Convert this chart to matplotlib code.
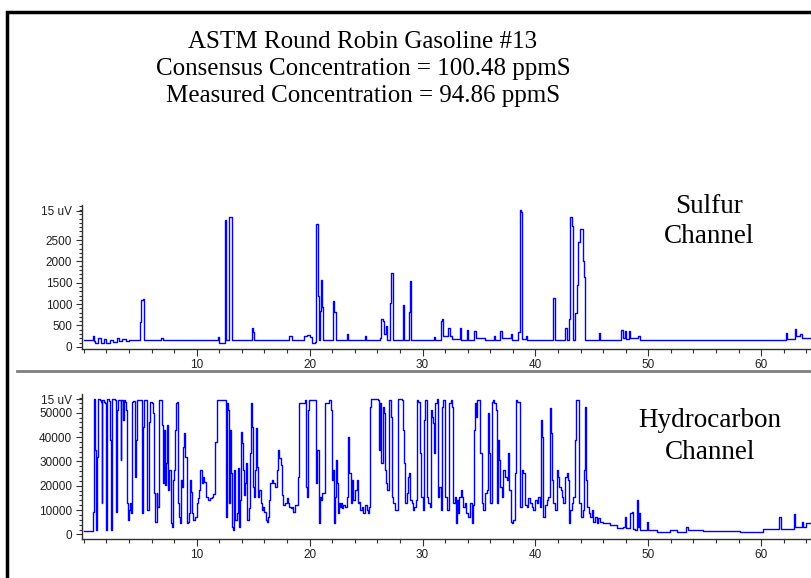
import matplotlib
matplotlib.use("Agg")
import matplotlib.pyplot as plt
from matplotlib.lines import Line2D
from matplotlib.ticker import MultipleLocator

# ---- data (time in minutes, detector counts) ----
title_lines = ["ASTM Round Robin Gasoline #13",
               "Consensus Concentration = 100.48 ppmS",
               "Measured Concentration = 94.86 ppmS"]

s_time = [0.0, 0.8, 0.9, 1.0, 1.3, 1.5, 1.8, 2.0, 2.3, 2.6,
          2.9, 3.1, 3.4, 3.7, 4.0, 4.4, 4.9, 5.0, 5.1, 5.2,
          5.3, 5.5, 6.6, 6.8, 7.0, 8.5, 10.0, 11.7, 11.9, 12.0,
          12.4, 12.5, 12.6, 12.8, 12.9, 13.0, 13.1, 14.0, 14.9, 15.0,
          15.1, 16.0, 17.0, 18.2, 18.4, 19.5, 19.8, 20.0, 20.2, 20.5,
          20.6, 20.7, 20.8, 20.95, 21.05, 21.1, 21.2, 22.1, 22.2, 22.3,
          23.3, 23.4, 24.9, 25.0, 26.2, 26.35, 26.5, 26.6, 26.75, 26.85,
          27.1, 27.25, 27.35, 28.25, 28.35, 28.8, 28.9, 29.0, 30.0, 31.0,
          31.1, 31.6, 31.7, 31.8, 32.3, 32.4, 32.6, 33.3, 33.45, 33.95,
          34.05, 34.6, 34.7, 35.5, 36.3, 36.4, 36.9, 37.0, 37.8, 37.9,
          38.5, 38.6, 38.7, 38.8, 39.2, 39.3, 41.6, 41.7, 42.6, 42.8,
          42.95, 43.05, 43.2, 43.3, 43.5, 43.65, 43.8, 43.95, 44.1, 44.2,
          44.3, 44.4, 45.6, 45.7, 46.0, 47.6, 47.8, 47.9, 48.0, 48.3,
          48.4, 49.1, 49.3, 62.2, 62.3, 63.0, 63.1, 63.4, 63.6, 64.3]
s_signal = [150, 260, 140, 100, 200, 90, 180, 100, 170, 120,
            210, 130, 180, 140, 160, 150, 160, 590, 1100, 1120,
            170, 150, 160, 200, 160, 150, 150, 160, 220, 100,
            100, 2970, 150, 150, 3045, 3045, 160, 160, 440, 350,
            170, 150, 160, 260, 170, 260, 280, 220, 90, 120,
            2870, 1190, 150, 850, 1565, 940, 150, 1075, 810, 150,
            300, 160, 250, 160, 200, 650, 600, 300, 490, 150,
            1020, 1740, 150, 980, 150, 820, 1540, 160, 150, 240,
            160, 600, 650, 250, 450, 250, 180, 450, 160, 400,
            170, 360, 200, 160, 260, 170, 360, 200, 300, 160,
            350, 3200, 3160, 180, 250, 160, 1150, 150, 440, 160,
            650, 3045, 2830, 160, 800, 1450, 2460, 2770, 2770, 2000,
            1630, 150, 330, 160, 150, 400, 200, 360, 180, 360,
            200, 250, 150, 320, 180, 420, 250, 300, 200, 200]

hc_time = [0.00, 0.79, 0.84, 0.93, 1.02, 1.11, 1.20, 1.29, 1.43, 1.52,
           1.58, 1.64, 1.79, 1.88, 1.97, 2.08, 2.20, 2.32, 2.41, 2.53,
           2.76, 2.85, 2.91, 3.06, 3.21, 3.27, 3.33, 3.44, 3.56, 3.68,
           3.74, 3.80, 3.89, 3.98, 4.09, 4.18, 4.27, 4.39, 4.51, 4.59,
           4.68, 4.98, 5.16, 5.27, 5.36, 5.57, 5.63, 5.75, 5.86, 6.01,
           6.16, 6.25, 6.34, 6.46, 6.51, 6.63, 6.87, 6.96, 7.04, 7.10,
           7.19, 7.25, 7.34, 7.43, 7.49, 7.58, 7.70, 7.81, 7.87, 7.96,
           8.05, 8.14, 8.23, 8.31, 8.43, 8.52, 8.61, 8.70, 8.79, 8.91,
           9.00, 9.11, 9.20, 9.29, 9.38, 9.47, 9.55, 9.70, 9.85, 10.00,
           10.09, 10.20, 10.32, 10.44, 10.59, 10.67, 10.79, 11.03, 11.18, 11.32,
           11.47, 11.62, 11.77, 12.50, 12.59, 12.65, 12.74, 12.83, 12.95, 13.04,
           13.13, 13.24, 13.33, 13.42, 13.54, 13.63, 13.72, 13.84, 13.93, 14.01,
           14.10, 14.19, 14.28, 14.37, 14.49, 14.61, 14.69, 14.78, 14.87, 14.96,
           15.08, 15.16, 15.25, 15.34, 15.43, 15.55, 15.67, 15.79, 15.87, 15.99,
           16.11, 16.20, 16.29, 16.38, 16.49, 16.64, 16.79, 16.96, 17.08, 17.23,
           17.32, 17.44, 17.56, 17.67, 17.79, 17.97, 18.09, 18.20, 18.32, 18.44,
           18.56, 18.70, 18.85, 18.94, 19.06, 19.59, 19.68, 19.80, 19.89, 19.98,
           20.48, 20.57, 20.68, 20.80, 20.92, 21.01, 21.10, 21.34, 21.40, 21.75,
           21.87, 21.96, 22.04, 22.16, 22.25, 22.34, 22.46, 22.55, 22.64, 22.72,
           22.81, 22.90, 22.99, 23.14, 23.28, 23.43, 23.52, 23.64, 23.76, 23.87,
           24.02, 24.17, 24.26, 24.35, 24.46, 24.64, 24.76, 24.91, 25.05, 25.17,
           25.26, 25.35, 25.44, 26.09, 26.18, 26.26, 26.35, 26.47, 26.59, 26.68,
           26.77, 26.88, 27.00, 27.18, 27.30, 27.42, 27.56, 27.86, 28.15, 28.30,
           28.39, 28.48, 28.60, 28.72, 28.80, 28.89, 29.04, 29.19, 29.28, 29.40,
           29.48, 29.63, 29.78, 29.90, 30.02, 30.13, 30.22, 30.37, 30.52, 30.66,
           30.78, 30.87, 30.96, 31.05, 31.14, 31.26, 31.37, 31.49, 31.61, 31.73,
           31.85, 31.97, 32.14, 32.32, 32.50, 32.61, 32.73, 32.85, 32.97, 33.09,
           33.18, 33.26, 33.38, 33.50, 33.62, 33.74, 33.85, 34.06, 34.21, 34.36,
           34.48, 34.56, 34.65, 34.74, 34.83, 35.09, 35.24, 35.39, 35.51, 35.68,
           35.77, 35.86, 35.98, 36.13, 36.25, 36.36, 36.48, 36.57, 36.69, 36.78,
           36.87, 37.01, 37.16, 37.31, 37.46, 37.60, 37.69, 37.81, 37.93, 38.05,
           38.17, 38.28, 38.40, 38.64, 38.78, 38.93, 39.08, 39.23, 39.38, 39.52,
           39.67, 39.82, 39.97, 40.11, 40.26, 40.41, 40.50, 40.58, 40.70, 40.85,
           41.00, 41.15, 41.30, 41.38, 41.47, 41.59, 41.74, 41.89, 42.00, 42.12,
           42.24, 42.36, 42.48, 42.62, 42.77, 42.86, 42.95, 43.07, 43.21, 43.36,
           43.51, 43.60, 43.74, 43.89, 44.01, 44.19, 44.30, 44.39, 44.48, 44.60,
           44.72, 44.83, 44.98, 45.13, 45.28, 45.42, 45.57, 45.72, 46.02, 46.61,
           47.20, 47.79, 47.94, 48.03, 48.38, 48.53, 48.62, 48.82, 48.97, 49.06,
           49.18, 49.27, 49.86, 50.01, 50.74, 51.92, 52.51, 53.34, 53.49, 54.87,
           56.64, 58.12, 60.19, 61.37, 61.61, 61.73, 62.55, 62.91, 63.03, 63.58,
           63.73, 63.96, 64.30]
hc_signal = [1400, 1400, 9300, 55500, 34700, 1800, 31900, 55500, 55200, 54500,
             12700, 55200, 54500, 53800, 1800, 55500, 54900, 38800, 1800, 55500,
             55200, 9300, 51100, 55200, 55200, 30600, 55200, 47000, 55200, 54500,
             51100, 12700, 5900, 10000, 12700, 8600, 54500, 54900, 23700, 38800,
             55200, 55200, 8600, 44300, 55200, 55200, 10000, 46300, 54500, 53800,
             49700, 16900, 5200, 16900, 11400, 55200, 55200, 44900, 21000, 42900,
             20300, 29200, 44900, 44300, 18200, 26400, 4500, 3200, 22300, 26400,
             42900, 53800, 54500, 12700, 7300, 4500, 22300, 19600, 36000, 41500,
             31900, 4500, 5200, 8600, 22300, 17500, 8600, 5900, 7300, 12700,
             14800, 18200, 26400, 21000, 23700, 21600, 15500, 14100, 14800, 15500,
             16600, 38100, 55200, 55200, 7300, 53800, 51100, 12700, 42900, 25100,
             3200, 1800, 26400, 5900, 8600, 27100, 3200, 14100, 42200, 37400,
             26400, 16200, 21000, 29200, 5900, 10700, 33300, 53800, 44300, 19600,
             15500, 26400, 43600, 27800, 15500, 18200, 12700, 10000, 11400, 9300,
             5900, 5200, 7300, 14100, 21000, 22300, 21000, 19300, 26400, 34700,
             31200, 28500, 16200, 12100, 12700, 14800, 12700, 11400, 10700, 11400,
             9300, 12100, 12100, 23700, 53800, 55200, 19600, 15500, 51100, 55200,
             55200, 21000, 34700, 4500, 15500, 14100, 16900, 23700, 53800, 55200,
             51100, 22300, 26400, 4500, 15500, 30600, 21000, 8600, 12700, 11400,
             12700, 10700, 12100, 11400, 15500, 40100, 25100, 12700, 22300, 14100,
             18200, 22300, 12700, 13400, 10000, 11400, 8600, 12100, 10000, 8600,
             11400, 52500, 55500, 55200, 34700, 53800, 29200, 52500, 49700, 26400,
             21000, 18200, 55200, 48400, 15500, 12700, 10000, 55500, 55200, 42900,
             29200, 12700, 16900, 23700, 25100, 14100, 12700, 10000, 11400, 14100,
             55200, 54500, 33300, 15500, 10000, 47000, 55200, 15500, 12700, 11400,
             51100, 48400, 45600, 33300, 53800, 55500, 15500, 19600, 10000, 52500,
             55200, 15500, 10000, 53800, 55200, 52500, 12700, 15500, 4500, 14100,
             8600, 15500, 18200, 15500, 11400, 12700, 8600, 7300, 12700, 4500,
             12100, 42900, 53800, 48400, 55200, 33300, 12700, 10000, 16900, 18200,
             49700, 33300, 12700, 54500, 55200, 53800, 51100, 12700, 38800, 30600,
             19600, 15500, 26400, 23700, 22300, 33300, 18200, 5200, 4500, 5900,
             25100, 55200, 54500, 11400, 26400, 25100, 12100, 11400, 14800, 12700,
             11400, 10000, 14100, 12700, 15500, 11400, 47000, 40100, 7300, 12100,
             14100, 15500, 51800, 41500, 22300, 12700, 10000, 26400, 23700, 19600,
             18200, 15500, 12700, 23700, 25100, 22300, 4500, 10000, 12700, 15500,
             38800, 55200, 55200, 12700, 7300, 10000, 26400, 52500, 22300, 11400,
             8600, 7300, 10000, 5200, 7300, 4500, 6600, 5200, 4500, 3800,
             2500, 3200, 7300, 2500, 8600, 9300, 2100, 1800, 14100, 3200,
             8600, 1800, 5200, 1800, 1100, 1800, 1100, 3200, 1800, 1500,
             1400, 1100, 2100, 2300, 7300, 2100, 2100, 8300, 3200, 5200,
             3200, 4500, 4500]

s_ticks = [0, 500, 1000, 1500, 2000, 2500, 3180]
s_tick_labels = ["0", "500", "1000", "1500", "2000", "2500", "15 uV"]
hc_ticks = [0, 10000, 20000, 30000, 40000, 50000, 55500]
hc_tick_labels = ["0", "10000", "20000", "30000", "40000", "50000", "15 uV"]
time_ticks = [10, 20, 30, 40, 50, 60]

W, H = 812, 578


def fx(px):
    return px / W


def fy(py):
    return 1 - py / H


def style_axis(ax, yticks, ylabels, yminor):
    for side in ["top", "right"]:
        ax.spines[side].set_visible(False)
    for side in ["left", "bottom"]:
        ax.spines[side].set_color("#303030")
        ax.spines[side].set_linewidth(1.0)
    ax.set_xlim(-0.16, 64.5)
    ax.set_xticks(time_ticks)
    ax.set_xticklabels([str(t) for t in time_ticks])
    ax.xaxis.set_minor_locator(MultipleLocator(2))
    ax.set_yticks(yticks)
    ax.set_yticklabels(ylabels)
    ax.yaxis.set_minor_locator(MultipleLocator(yminor))
    ax.tick_params(axis="x", which="major", length=5, width=0.8, pad=2,
                   color="#303030", labelsize=8.5, labelcolor="#202020")
    ax.tick_params(axis="x", which="minor", length=3, width=0.8, color="#303030")
    ax.tick_params(axis="y", which="major", length=4, width=0.8, pad=3,
                   color="#303030", labelsize=8.5, labelcolor="#202020")
    ax.tick_params(axis="y", which="minor", length=2, width=0.8, color="#303030")
    for lab in ax.get_xticklabels() + ax.get_yticklabels():
        lab.set_fontfamily("Liberation Sans")


fig = plt.figure(figsize=(W / 100, H / 100), dpi=100)

# sulfur channel
ax_s = fig.add_axes([fx(82), fy(349), fx(W) - fx(82), fy(205) - fy(349)])
ax_s.plot(s_time, s_signal, color="#0000ff", lw=1.0, drawstyle="steps-post")
ax_s.set_ylim(-50, 3320)
style_axis(ax_s, s_ticks, s_tick_labels, 100)

# hydrocarbon channel
ax_h = fig.add_axes([fx(82), fy(539), fx(W) - fx(82), fy(394) - fy(539)])
ax_h.plot(hc_time, hc_signal, color="#0000ff", lw=1.0, drawstyle="steps-post")
ax_h.set_ylim(-1900, 57700)
style_axis(ax_h, hc_ticks, hc_tick_labels, 2000)

# text
serif = "Liberation Serif"
for line, base in zip(title_lines, [48, 75, 102]):
    fig.text(fx(363), fy(base), line, ha="center", va="baseline",
             fontsize=18, family=serif)
fig.text(fx(709), fy(213), "Sulfur", ha="center", va="baseline", fontsize=19.5, family=serif)
fig.text(fx(709), fy(243), "Channel", ha="center", va="baseline", fontsize=19.5, family=serif)
fig.text(fx(710), fy(427), "Hydrocarbon", ha="center", va="baseline", fontsize=19.5, family=serif)
fig.text(fx(710), fy(459), "Channel", ha="center", va="baseline", fontsize=19.5, family=serif)

# frame and divider
fig.add_artist(Line2D([fx(7), fx(7), 1.0], [0.0, fy(12), fy(12)], color="black",
                      lw=2.5, solid_joinstyle="miter"))
fig.add_artist(Line2D([fx(17), 1.0], [fy(371), fy(371)], color="#7f7f7f", lw=2))

fig.savefig("out.png", dpi=100)
